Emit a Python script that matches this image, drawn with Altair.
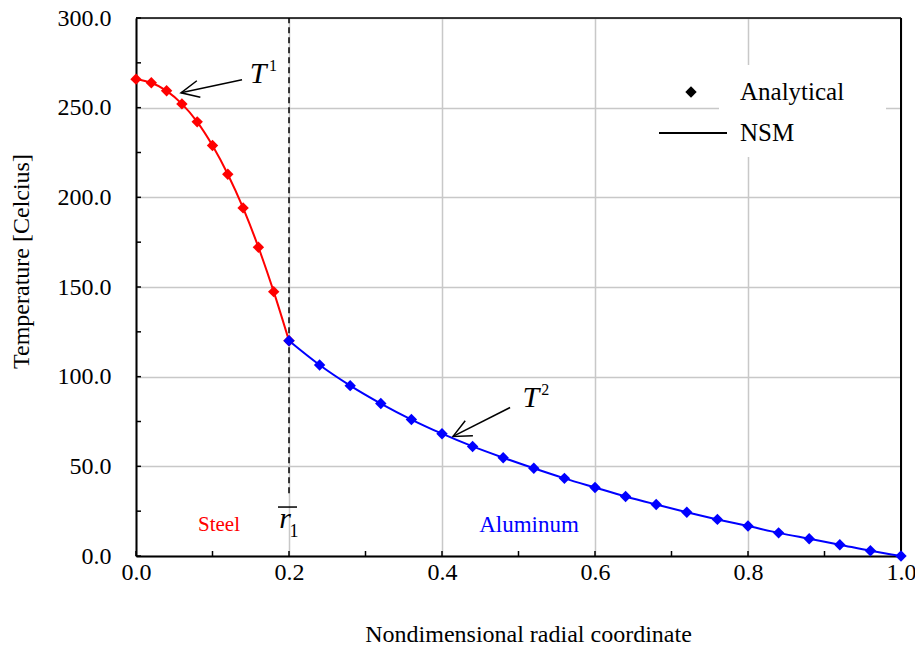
import altair as alt
import pandas as pd

# ---------------- data ----------------
steel_r = [0.00, 0.02, 0.04, 0.06, 0.08, 0.10, 0.12, 0.14, 0.16, 0.18, 0.20]
steel_T = [265.9, 263.9, 259.4, 252.1, 242.1, 228.9, 212.9, 194.1, 172.2, 147.4, 120.0]

alu_r = [0.20, 0.24, 0.28, 0.32, 0.36, 0.40, 0.44, 0.48, 0.52, 0.56, 0.60,
         0.64, 0.68, 0.72, 0.76, 0.80, 0.84, 0.88, 0.92, 0.96, 1.00]
alu_T = [120.0, 106.5, 95.0, 85.0, 76.1, 68.2, 61.1, 54.8, 48.9, 43.3, 38.2,
         33.2, 28.7, 24.4, 20.4, 16.7, 12.9, 9.6, 6.3, 2.9, 0.0]

x_major = [0.0, 0.2, 0.4, 0.6, 0.8, 1.0]
x_minor = [0.0, 0.1, 0.2, 0.3, 0.4, 0.5, 0.6, 0.7, 0.8, 0.9, 1.0]
y_major = [0, 50, 100, 150, 200, 250, 300]
y_minor = [0, 25, 50, 75, 100, 125, 150, 175, 200, 225, 250, 275, 300]

interface_r = 0.2
interface_top = 300
interface_bottom = 35

# annotation arrows: (tail r, tail T, tip r, tip T)
arrow_tail_r = [0.1386, 0.489]
arrow_tail_T = [265.6, 82.8]
arrow_tip_r = [0.0588, 0.4144]
arrow_tip_T = [258.3, 66.7]
arrow_angle = [348, 333]

label_T_r = [0.1595, 0.516]
label_T_T = [268.9, 88.0]
label_sup_r = [0.179, 0.535]
label_sup_T = [273.5, 92.5]
label_sup_txt = ["1", "2"]

FONT = "Liberation Serif"
RED = "#ff0000"
BLUE = "#0000ff"

W, H = 765, 538
xs = alt.Scale(domain=[0, 1], nice=False, zero=False)
ys = alt.Scale(domain=[0, 300], nice=False, zero=True)

x_axis = alt.Axis(values=x_major, format=".1f", title="Nondimensional radial coordinate",
                  grid=True, ticks=False, labelPadding=4, titlePadding=38, offset=0,
                  labelFlush=False, domainColor="black", domainWidth=2, titleX=392)
y_axis = alt.Axis(values=y_major, format=".1f", title="Temperature [Celcius]",
                  grid=True, ticks=False, labelPadding=25, titlePadding=24, offset=0,
                  labelFlush=False, domainColor="black", domainWidth=2, titleY=243)


def X(field="r"):
    return alt.X(f"{field}:Q", scale=xs, axis=x_axis)


def Y(field="T"):
    return alt.Y(f"{field}:Q", scale=ys, axis=y_axis)


steel = pd.DataFrame({"r": steel_r, "T": steel_T})
alu = pd.DataFrame({"r": alu_r, "T": alu_T})

# frame (top and right edges of the plot area)
frame_top = alt.Chart(pd.DataFrame({"r": [0.0], "r2": [1.0], "T": [300]})).mark_rule(
    color="black", strokeWidth=1.5).encode(x=X(), x2="r2:Q", y=Y())
frame_right = alt.Chart(pd.DataFrame({"r": [1.0], "T": [0], "T2": [300]})).mark_rule(
    color="black", strokeWidth=2).encode(x=X(), y=Y(), y2="T2:Q")

# lines (NSM)
steel_line = alt.Chart(steel).mark_line(color=RED, strokeWidth=2, interpolate="monotone").encode(x=X(), y=Y())
alu_line = alt.Chart(alu).mark_line(color=BLUE, strokeWidth=2, interpolate="monotone").encode(x=X(), y=Y())

# points (Analytical)
steel_pts = alt.Chart(steel).mark_point(shape="diamond", filled=True, size=130, color=RED, opacity=1).encode(x=X(), y=Y())
alu_pts = alt.Chart(alu).mark_point(shape="diamond", filled=True, size=130, color=BLUE, opacity=1).encode(x=X(), y=Y())

# interface dashed line
iface = alt.Chart(pd.DataFrame({"r": [interface_r], "T": [interface_bottom], "T2": [interface_top]})).mark_rule(
    color="black", strokeWidth=1.5, strokeDash=[6, 4]).encode(x=X(), y=Y(), y2="T2:Q")

# inner ticks
ytick = alt.Chart(pd.DataFrame({"T": y_minor})).mark_rule(color="black", strokeWidth=1.5).encode(
    y=Y(), x=alt.value(0), x2=alt.value(5))
xtick = alt.Chart(pd.DataFrame({"r": x_minor})).mark_rule(color="black", strokeWidth=1.5).encode(
    x=X(), y=alt.value(H), y2=alt.value(H - 5))

# arrows
arrows = pd.DataFrame({"r": arrow_tail_r, "T": arrow_tail_T, "r2": arrow_tip_r, "T2": arrow_tip_T,
                       "ang": arrow_angle})
shafts = alt.Chart(arrows).mark_rule(color="black", strokeWidth=1.5).encode(
    x=X(), y=Y(), x2="r2:Q", y2="T2:Q")
heads = alt.Chart(arrows).mark_point(shape="M1,-0.47L0,0L1,0.47", filled=False, size=1296,
                                     color="black", strokeWidth=1.5, opacity=1).encode(
    x=X("r2"), y=Y("T2"), angle=alt.Angle("ang:Q", scale=None))

labels_T = alt.Chart(pd.DataFrame({"r": label_T_r, "T": label_T_T})).mark_text(
    text="T", font=FONT, fontSize=30, fontStyle="italic", color="black", baseline="middle").encode(x=X(), y=Y())
labels_sup = alt.Chart(pd.DataFrame({"r": label_sup_r, "T": label_sup_T, "t": label_sup_txt})).mark_text(
    font=FONT, fontSize=16, color="black", baseline="middle").encode(x=X(), y=Y(), text="t:N")

# r-bar_1 label
rlab = alt.Chart(pd.DataFrame({"r": [0.195], "T": [20.5]})).mark_text(
    text="r", font=FONT, fontSize=30, fontStyle="italic", color="black", baseline="middle").encode(x=X(), y=Y())
rbar = alt.Chart(pd.DataFrame({"r": [0.1856], "r2": [0.2105], "T": [27.3]})).mark_rule(
    color="black", strokeWidth=1.5).encode(x=X(), x2="r2:Q", y=Y())
rsub = alt.Chart(pd.DataFrame({"r": [0.2065], "T": [13.3]})).mark_text(
    text="1", font=FONT, fontSize=18, color="black", baseline="middle").encode(x=X(), y=Y())

steel_txt = alt.Chart(pd.DataFrame({"r": [0.1085], "T": [17.5]})).mark_text(
    text="Steel", font=FONT, fontSize=21, color=RED, baseline="middle").encode(x=X(), y=Y())
alu_txt = alt.Chart(pd.DataFrame({"r": [0.5137], "T": [17.2]})).mark_text(
    text="Aluminum", font=FONT, fontSize=23, color=BLUE, baseline="middle").encode(x=X(), y=Y())

# legend (manual)
one = pd.DataFrame({"a": [0]})
leg_box = alt.Chart(one).mark_rect(color="white").encode(
    x=alt.value(583), x2=alt.value(750), y=alt.value(47), y2=alt.value(139))
leg_sym = alt.Chart(one).mark_point(shape="diamond", filled=True, size=130, color="black", opacity=1).encode(
    x=alt.value(555), y=alt.value(74))
leg_line = alt.Chart(one).mark_rule(color="black", strokeWidth=2).encode(
    x=alt.value(523), x2=alt.value(591), y=alt.value(115))
leg_t1 = alt.Chart(one).mark_text(text="Analytical", font=FONT, fontSize=25, align="left",
                                  baseline="middle", color="black").encode(x=alt.value(604), y=alt.value(74))
leg_t2 = alt.Chart(one).mark_text(text="NSM", font=FONT, fontSize=25, align="left",
                                  baseline="middle", color="black").encode(x=alt.value(604), y=alt.value(115))

chart = alt.layer(
    leg_box, frame_top, frame_right, iface, ytick, xtick, steel_line, alu_line, steel_pts, alu_pts,
    shafts, heads, labels_T, labels_sup, rlab, rbar, rsub, steel_txt, alu_txt,
    leg_sym, leg_line, leg_t1, leg_t2,
).properties(
    width=W, height=H,
    autosize=alt.AutoSizeParams(type="none"),
    padding={"left": 128, "top": 10, "right": 14, "bottom": 92},
).configure_view(
    strokeWidth=0
).configure_axis(
    labelFont=FONT, titleFont=FONT, labelFontSize=24, titleFontSize=24,
    labelColor="black", titleColor="black", titleFontWeight="normal",
    domainColor="black", domainWidth=2, gridColor="#c8c8c8", gridWidth=1.5,
)

chart.save("out.html", embed_options={"renderer": "svg", "actions": False})
